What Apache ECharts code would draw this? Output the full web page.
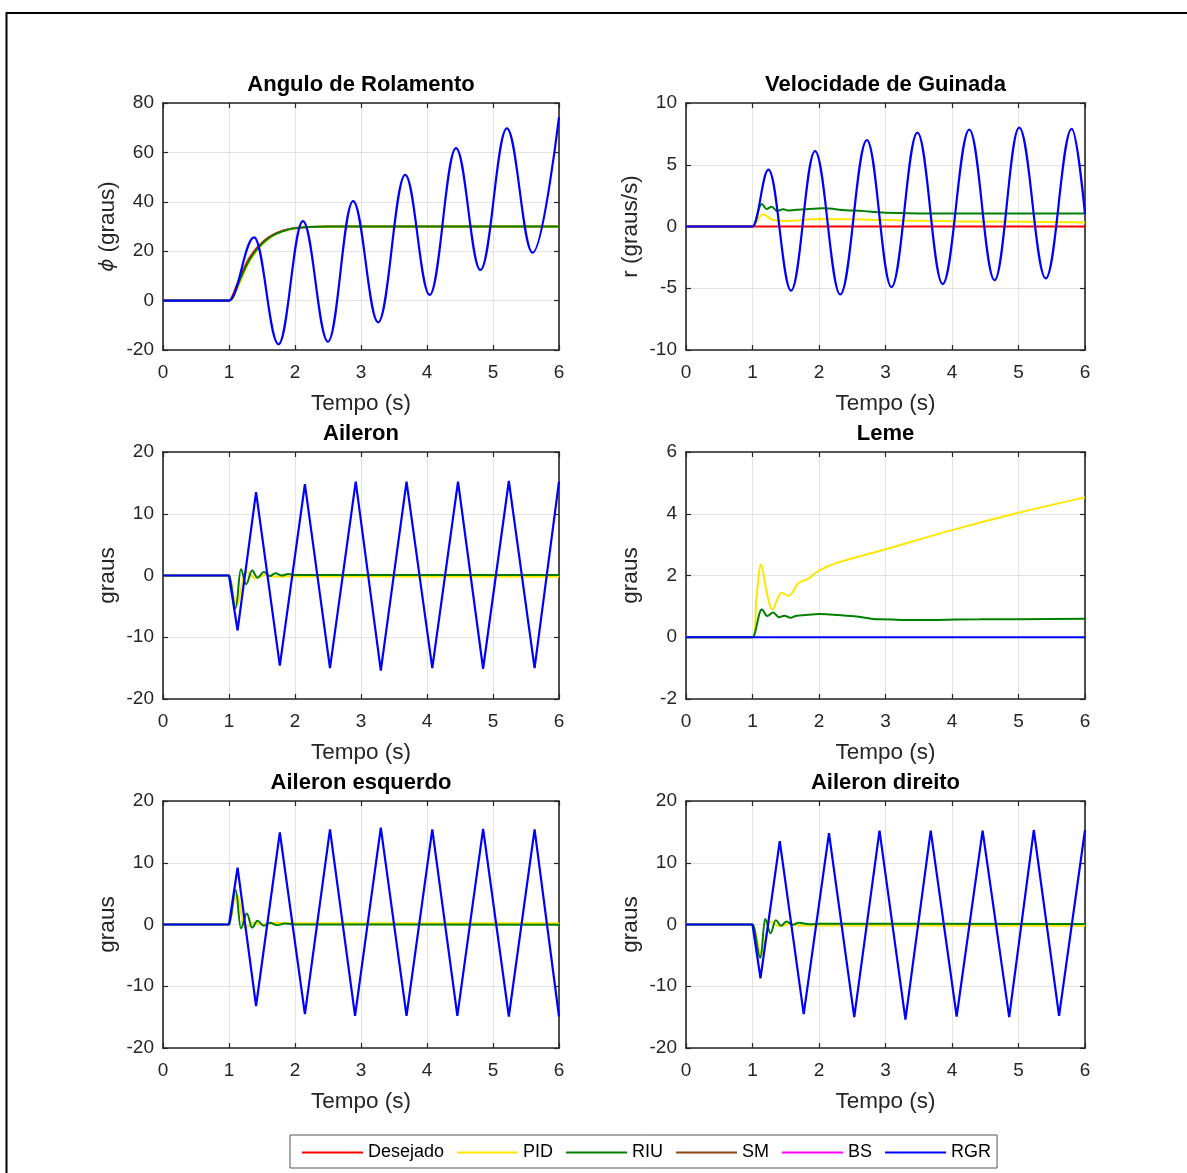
<!DOCTYPE html>
<html><head><meta charset="utf-8">
<script src="https://cdn.jsdelivr.net/npm/echarts@6/dist/echarts.min.js"></script>
<style>html,body{margin:0;padding:0;background:#fff}#c{width:1187px;height:1173px}</style>
</head><body><div id="c"></div>
<script>
// ================= DATA =================
const xTicks = [0, 1, 2, 3, 4, 5, 6];
const legendNames = ['Desejado', 'PID', 'RIU', 'SM', 'BS', 'RGR'];
const panelTitles = ['Angulo de Rolamento', 'Velocidade de Guinada', 'Aileron', 'Leme', 'Aileron esquerdo', 'Aileron direito'];
const yAxisNames = ['{i|ϕ} (graus)', 'r (graus/s)', 'graus', 'graus', 'graus', 'graus'];
const yMin = [-20, -10, -20, -2, -20, -20];
const yMax = [80, 10, 20, 6, 20, 20];
const yStep = [20, 5, 10, 2, 10, 10];

// SM and BS are not visible in any panel (hidden / coincident), legend entries only
const smT = [];
const smV = [];
const bsT = [];
const bsV = [];

// --- Angulo de Rolamento (phi) ---
const rollDesT = [0, 1.0, 1.05, 1.1, 1.2, 1.3, 1.4, 1.5, 1.6, 1.7, 1.8, 1.9, 2.0, 2.2, 2.5, 6];
const rollDesV = [0, 0, 1.8, 5.0, 11.5, 16.8, 20.6, 23.4, 25.6, 27.1, 28.2, 28.9, 29.4, 29.8, 30, 30];
const rollPidT = [0, 1.0, 1.05, 1.1, 1.2, 1.3, 1.4, 1.5, 1.6, 1.7, 1.8, 1.9, 2.0, 2.2, 2.5, 6];
const rollPidV = [0, 0, 0.6, 3.2, 9.5, 15.3, 19.5, 22.6, 25.0, 26.7, 27.9, 28.7, 29.2, 29.8, 30, 30];
const rollRiuT = [0, 1.0, 1.05, 1.1, 1.2, 1.3, 1.4, 1.5, 1.6, 1.7, 1.8, 1.9, 2.0, 2.2, 2.5, 6];
const rollRiuV = [0, 0, 1.0, 4.0, 10.5, 16.0, 20.0, 23.0, 25.3, 26.9, 28.0, 28.8, 29.3, 29.8, 30, 30];
const rollRgrT = [0, 1.0, 1.38, 1.75, 2.12, 2.50, 2.88, 3.26, 3.67, 4.04, 4.44, 4.81, 5.21, 5.60, 6.0];
const rollRgrV = [0, 0, 25.6, -17.7, 32.2, -16.6, 40.3, -8.8, 50.9, 2.3, 61.7, 12.4, 69.7, 19.4, 74.3];

// --- Velocidade de Guinada (r) ---
const yawDesT = [0, 6];
const yawDesV = [0, 0];
const yawPidT = [0, 1.0, 1.15, 1.33, 1.5, 2.0, 2.5, 3.0, 3.5, 4.5, 6.0];
const yawPidV = [0, 0, 1.0, 0.5, 0.45, 0.6, 0.58, 0.52, 0.46, 0.4, 0.33];
const yawRiuT = [0, 1.0, 1.14, 1.21, 1.29, 1.37, 1.46, 1.54, 1.8, 2.05, 2.5, 3.0, 3.5, 6.0];
const yawRiuV = [0, 0, 1.82, 1.42, 1.6, 1.25, 1.4, 1.3, 1.4, 1.47, 1.3, 1.12, 1.06, 1.06];
const yawRgrT = [0, 1.0, 1.24, 1.58, 1.94, 2.32, 2.72, 3.09, 3.48, 3.86, 4.26, 4.64, 5.01, 5.41, 5.80, 6.0];
const yawRgrV = [0, 0, 4.6, -5.2, 6.1, -5.5, 7.0, -4.9, 7.6, -4.65, 7.85, -4.35, 8.0, -4.2, 7.9, 1.0];

// --- Aileron ---
const ailPidT = [0, 1.0, 1.11, 1.26, 1.40, 1.55, 1.7, 2.0, 6];
const ailPidV = [0, 0, -4.8, 0.6, -0.45, 0.1, -0.2, -0.15, -0.2];
const ailRiuT = [0, 1.0, 1.10, 1.18, 1.26, 1.35, 1.43, 1.53, 1.62, 1.70, 1.80, 1.90, 2.0, 6];
const ailRiuV = [0, 0, -5.3, 1.0, -1.4, 0.8, -0.35, 0.55, -0.1, 0.35, 0.0, 0.25, 0.08, 0.08];
const ailRgrT = [0, 1.0, 1.13, 1.41, 1.77, 2.15, 2.53, 2.92, 3.30, 3.69, 4.08, 4.47, 4.85, 5.24, 5.63, 6.0];
const ailRgrV = [0, 0, -8.9, 13.5, -14.6, 14.8, -15.0, 15.2, -15.4, 15.2, -15.0, 15.2, -15.1, 15.3, -15.0, 15.2];

// --- Leme ---
const lemPidT = [0, 1.0, 1.06, 1.13, 1.21, 1.30, 1.44, 1.54, 1.69, 1.84, 1.99, 2.27, 3.0, 4.0, 5.0, 6.0];
const lemPidV = [0, 0, 1.3, 2.36, 1.5, 0.9, 1.44, 1.34, 1.75, 1.9, 2.15, 2.41, 2.85, 3.47, 4.03, 4.53];
const lemRiuT = [0, 1.0, 1.14, 1.22, 1.31, 1.40, 1.48, 1.57, 1.67, 2.02, 2.42, 2.92, 3.42, 4.42, 6.0];
const lemRiuV = [0, 0, 0.9, 0.69, 0.8, 0.65, 0.7, 0.63, 0.7, 0.75, 0.7, 0.58, 0.56, 0.58, 0.6];
const lemRgrT = [0, 6];
const lemRgrV = [0, 0];

// --- Aileron esquerdo ---
const aesPidT = [0, 1.0, 1.11, 1.25, 1.36, 1.5, 1.7, 2.0, 6];
const aesPidV = [0, 0, 5.0, -0.5, 0.3, 0.0, 0.25, 0.2, 0.2];
const aesRiuT = [0, 1.0, 1.10, 1.18, 1.27, 1.35, 1.43, 1.53, 1.62, 1.72, 1.85, 2.0, 6];
const aesRiuV = [0, 0, 5.6, -0.6, 1.8, -0.5, 0.6, -0.2, 0.3, -0.1, 0.15, 0.0, -0.05];
const aesRgrT = [0, 1.0, 1.13, 1.41, 1.77, 2.15, 2.53, 2.91, 3.30, 3.69, 4.08, 4.46, 4.85, 5.24, 5.63, 6.0];
const aesRgrV = [0, 0, 9.2, -13.2, 14.9, -14.5, 15.4, -14.8, 15.7, -14.8, 15.4, -14.8, 15.5, -14.9, 15.4, -14.9];

// --- Aileron direito ---
const adiPidT = [0, 1.0, 1.13, 1.27, 1.40, 1.55, 1.7, 2.0, 6];
const adiPidV = [0, 0, -4.6, 0.5, -0.3, 0.1, -0.15, -0.15, -0.2];
const adiRiuT = [0, 1.0, 1.12, 1.19, 1.27, 1.35, 1.43, 1.51, 1.60, 1.70, 1.85, 2.0, 6];
const adiRiuV = [0, 0, -5.4, 0.9, -1.4, 0.7, -0.2, 0.5, -0.05, 0.3, 0.05, 0.12, 0.1];
const adiRgrT = [0, 1.0, 1.12, 1.41, 1.77, 2.15, 2.53, 2.91, 3.30, 3.68, 4.07, 4.46, 4.86, 5.23, 5.61, 6.0];
const adiRgrV = [0, 0, -8.7, 13.5, -14.5, 14.8, -15.0, 15.2, -15.4, 15.2, -14.9, 15.2, -15.0, 15.3, -14.8, 15.3];

// ================= STYLE / LAYOUT =================
const FONT = '"Liberation Sans", Arial, Helvetica, sans-serif';
const AX = '#262626';
const colors = { 'Desejado': '#ff0000', 'PID': '#ffe600', 'RIU': '#008000', 'SM': '#8b4513', 'BS': '#ff00ff', 'RGR': '#0000ff' };
const grids = [
  { left: 163, top: 103, width: 396, height: 247 },
  { left: 686, top: 103, width: 399, height: 247 },
  { left: 163, top: 452, width: 396, height: 247 },
  { left: 686, top: 452, width: 399, height: 247 },
  { left: 163, top: 801, width: 396, height: 247 },
  { left: 686, top: 801, width: 399, height: 247 }
];
const pairs = (t, v) => t.map((x, i) => [x, v[i]]);

// [panel, name, t, v, mode]  mode: osc (extrema, horizontal tangents), curve, line
const lines = [
  [0, 'Desejado', rollDesT, rollDesV, 'curve'], [0, 'PID', rollPidT, rollPidV, 'curve'],
  [0, 'RIU', rollRiuT, rollRiuV, 'curve'], [0, 'SM', smT, smV, 'line'], [0, 'BS', bsT, bsV, 'line'],
  [0, 'RGR', rollRgrT, rollRgrV, 'osc'],

  [1, 'PID', yawPidT, yawPidV, 'osc'], [1, 'RIU', yawRiuT, yawRiuV, 'osc'],
  [1, 'Desejado', yawDesT, yawDesV, 'line'], [1, 'RGR', yawRgrT, yawRgrV, 'osc'],

  [2, 'PID', ailPidT, ailPidV, 'osc'], [2, 'RIU', ailRiuT, ailRiuV, 'osc'], [2, 'RGR', ailRgrT, ailRgrV, 'line'],

  [3, 'PID', lemPidT, lemPidV, 'curve'], [3, 'RIU', lemRiuT, lemRiuV, 'osc'], [3, 'RGR', lemRgrT, lemRgrV, 'line'],

  [4, 'PID', aesPidT, aesPidV, 'osc'], [4, 'RIU', aesRiuT, aesRiuV, 'osc'], [4, 'RGR', aesRgrT, aesRgrV, 'line'],

  [5, 'PID', adiPidT, adiPidV, 'osc'], [5, 'RIU', adiRiuT, adiRiuV, 'osc'], [5, 'RGR', adiRgrT, adiRgrV, 'line']
];

const xAxes = [], yAxes = [], titles = [];
grids.forEach((g, i) => {
  const common = {
    gridIndex: i, type: 'value',
    axisLine: { onZero: false, lineStyle: { color: AX, width: 1.6 } },
    axisTick: { inside: true, length: 5, lineStyle: { color: AX, width: 1.2 } },
    axisLabel: { color: AX, fontSize: 19, fontFamily: FONT },
    splitLine: { show: false }
  };
  xAxes.push(Object.assign({}, common, {
    position: 'bottom', min: xTicks[0], max: xTicks[xTicks.length - 1], interval: 1,
    axisLabel: Object.assign({}, common.axisLabel, { margin: 13 }),
    splitLine: { show: true, lineStyle: { color: '#e3e3e3', width: 1 } },
    name: 'Tempo (s)', nameLocation: 'middle', nameGap: 42,
    nameTextStyle: { color: AX, fontSize: 22.5, fontFamily: FONT }
  }));
  xAxes.push(Object.assign({}, common, {
    position: 'top', min: xTicks[0], max: xTicks[xTicks.length - 1], interval: 1,
    axisLabel: { show: false }
  }));
  yAxes.push(Object.assign({}, common, {
    position: 'left', min: yMin[i], max: yMax[i], interval: yStep[i],
    axisLabel: Object.assign({}, common.axisLabel, { margin: 9 }),
    splitLine: { show: true, lineStyle: { color: '#e3e3e3', width: 1 } },
    name: yAxisNames[i], nameLocation: 'middle', nameGap: 44,
    nameTextStyle: { color: AX, fontSize: 22.5, fontFamily: FONT,
      rich: { i: { fontStyle: 'italic', fontSize: 20, fontFamily: '"DejaVu Sans", sans-serif', color: AX } } }
  }));
  yAxes.push(Object.assign({}, common, {
    position: 'right', min: yMin[i], max: yMax[i], interval: yStep[i],
    axisLabel: { show: false }
  }));
  titles.push({
    text: panelTitles[i], left: g.left + g.width / 2, top: g.top - 29, textAlign: 'center', padding: 0,
    textStyle: { fontSize: 22, fontWeight: 'bold', color: '#000', fontFamily: FONT }
  });
});

const series = lines.map(([p, name, t, v, mode]) => {
  const s = {
    type: 'line', name, xAxisIndex: 2 * p, yAxisIndex: 2 * p,
    data: pairs(t, v), symbol: 'none', showSymbol: false,
    lineStyle: { color: colors[name], width: name === 'RGR' ? 2.2 : 2 },
    itemStyle: { color: colors[name] },
    emphasis: { disabled: true }, silent: true
  };
  if (mode === 'osc') { s.smooth = 0.38; s.smoothMonotone = 'x'; }
  else if (mode === 'curve') { s.smooth = 0.35; }
  else { s.smooth = false; }
  return s;
});

const chart = echarts.init(document.getElementById('c'), null, { renderer: 'canvas' });
chart.setOption({
  animation: false,
  backgroundColor: '#fff',
  title: titles,
  grid: grids.map(g => Object.assign({ containLabel: false }, g)),
  xAxis: xAxes,
  yAxis: yAxes,
  legend: {
    data: legendNames, left: 290, top: 1135, orient: 'horizontal',
    icon: 'rect', itemWidth: 61, itemHeight: 2, itemGap: 13,
    padding: [8, 6, 6, 12], borderColor: '#555', borderWidth: 1,
    textStyle: { color: '#000', fontSize: 18, fontFamily: FONT, lineHeight: 19 },
    selectedMode: false
  },
  graphic: [{
    type: 'polyline', silent: true,
    shape: { points: [[6.5, 1173], [6.5, 13], [1187, 13]] },
    style: { stroke: '#000', lineWidth: 2, fill: null }
  }],
  series
});
</script></body></html>
